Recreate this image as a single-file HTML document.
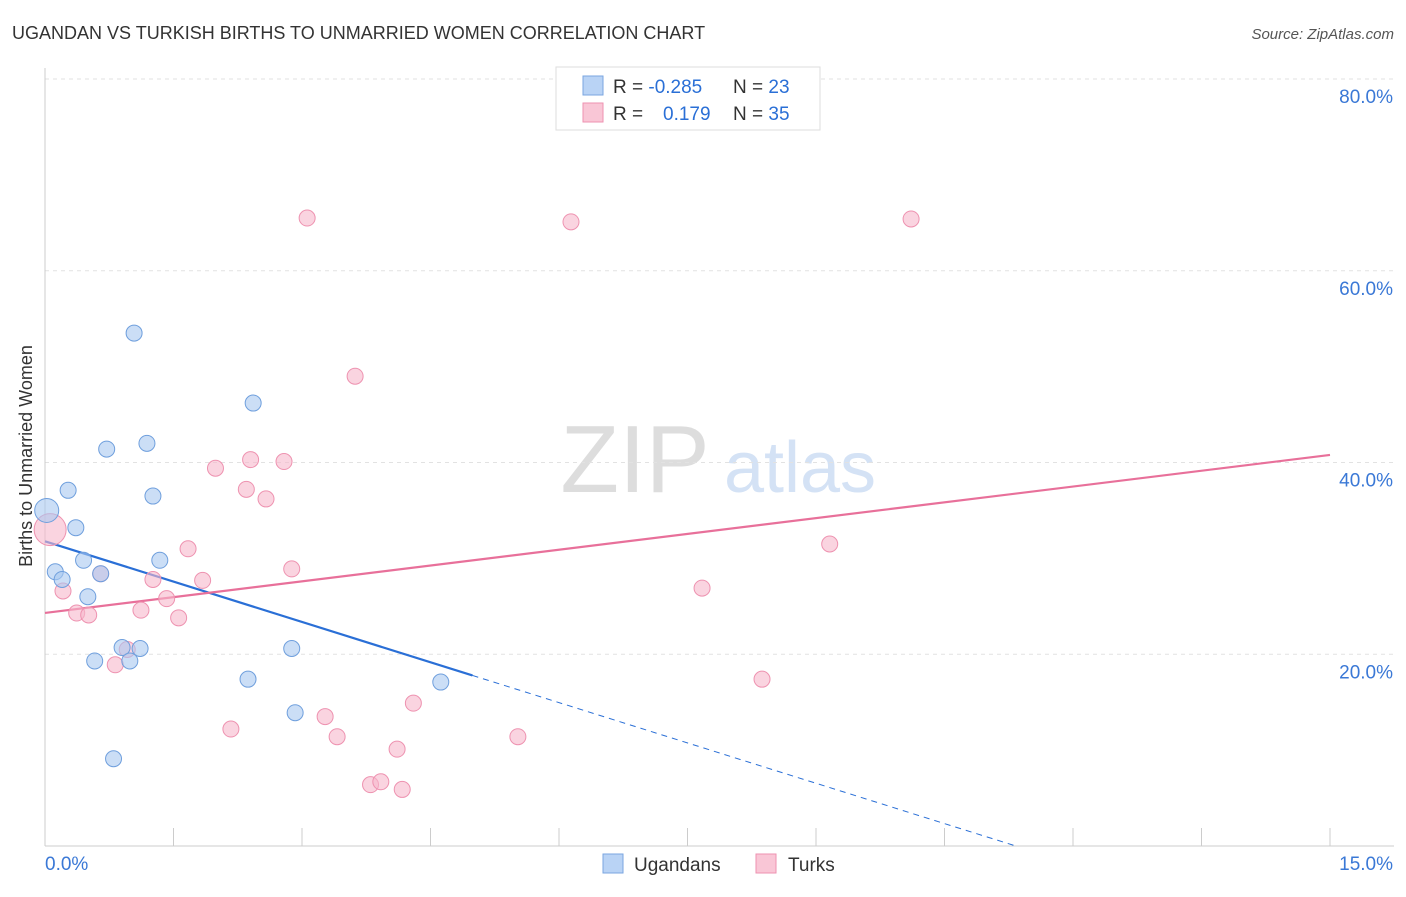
<!DOCTYPE html>
<html><head><meta charset="utf-8"><style>
body{margin:0;background:#fff;font-family:"Liberation Sans",sans-serif;}
svg text{font-family:"Liberation Sans",sans-serif;}
</style></head><body>
<svg id="chart" width="1406" height="892" xmlns="http://www.w3.org/2000/svg">
<text x="12" y="39" font-size="18" fill="#333">UGANDAN VS TURKISH BIRTHS TO UNMARRIED WOMEN CORRELATION CHART</text>
<text x="1394" y="39" font-size="15" fill="#555" text-anchor="end" font-style="italic">Source: ZipAtlas.com</text>
<text x="32" y="456" font-size="18" fill="#333" text-anchor="middle" transform="rotate(-90 32 456)">Births to Unmarried Women</text>
<text x="635" y="492" font-size="96" fill="#ddd" font-family="Liberation Serif" text-anchor="middle">ZIP</text>
<text x="800" y="492" font-size="72" fill="#d4e2f5" text-anchor="middle">atlas</text>
<g id="grid"></g><g id="axes"></g><g id="lines"></g><g id="pts"></g>
<g>
<rect x="556" y="67" width="264" height="63" fill="#fff" stroke="#ddd"/>
<rect x="583" y="76" width="20" height="19" fill="#b9d3f5" stroke="#7aa6e0"/>
<rect x="583" y="103" width="20" height="19" fill="#f9c6d6" stroke="#ee92b0"/>
<text x="613" y="93" font-size="19" fill="#333">R = <tspan fill="#2a6fd6">-0.285</tspan><tspan x="733">N = </tspan><tspan fill="#2a6fd6">23</tspan></text>
<text x="613" y="120" font-size="19" fill="#333">R = <tspan x="663" fill="#2a6fd6">0.179</tspan><tspan x="733">N = </tspan><tspan fill="#2a6fd6">35</tspan></text>
</g>
<g>
<rect x="603" y="854" width="20" height="19" fill="#b9d3f5" stroke="#7aa6e0"/>
<text x="634" y="871" font-size="19" fill="#333">Ugandans</text>
<rect x="756" y="854" width="20" height="19" fill="#f9c6d6" stroke="#ee92b0"/>
<text x="788" y="871" font-size="19" fill="#333">Turks</text>
</g>
</svg>
<script>
const yTicks=[20,40,60,80];
const xTickLabels=["0.0%","15.0%"];
const ugX=[0.02,0.12,0.2,0.27,0.36,0.45,0.5,0.58,0.65,0.72,0.8,0.9,0.99,1.04,1.11,1.19,1.26,1.34,2.37,2.43,2.88,2.92,4.62];
const ugY=[35.0,28.6,27.8,37.1,33.2,29.8,26.0,19.3,28.4,41.4,9.1,20.7,19.3,53.5,20.6,42.0,36.5,29.8,17.4,46.2,20.6,13.9,17.1];
const tuX=[0.06,0.21,0.37,0.51,0.65,0.82,0.96,1.12,1.26,1.42,1.56,1.67,1.84,1.99,2.17,2.35,2.4,2.58,2.79,2.88,3.06,3.27,3.41,3.62,3.8,3.92,4.11,4.17,4.3,5.52,6.14,7.67,8.37,9.16,10.11];
const tuY=[33.0,26.6,24.3,24.1,28.4,18.9,20.5,24.6,27.8,25.8,23.8,31.0,27.7,39.4,12.2,37.2,40.3,36.2,40.1,28.9,65.5,13.5,11.4,49.0,6.4,6.7,10.1,5.9,14.9,11.4,65.1,26.9,17.4,31.5,65.4];
const NS="http://www.w3.org/2000/svg";
const X=v=>45+v/15*1285, Y=v=>846-v*9.5875;
function mk(t,a,p){const e=document.createElementNS(NS,t);for(const k in a)e.setAttribute(k,a[k]);p.appendChild(e);return e;}
const grid=document.getElementById('grid'),axes=document.getElementById('axes'),lines=document.getElementById('lines'),pts=document.getElementById('pts');
yTicks.forEach(t=>{
 const l=mk('line',{x1:45,x2:1394,y1:Y(t),y2:Y(t),stroke:'#e2e2e2','stroke-dasharray':'4,4'},grid);
 
 
 const tx=mk('text',{x:1393,y:Y(t)+24,'font-size':19,fill:'#3a78d6','text-anchor':'end'},axes);
 tx.textContent=t.toFixed(1)+'%';
 
 
});
const ax=mk('line',{x1:45,x2:45,y1:68,y2:846,stroke:'#ccc'},axes);


const bx=mk('line',{x1:45,x2:1394,y1:846,y2:846,stroke:'#ccc'},axes);


for(let i=0;i<=10;i++){const t=mk('line',{x1:X(i*1.5),x2:X(i*1.5),y1:828,y2:846,stroke:'#ccc'},axes);
 
 }
[[0,45,'start'],[1,1393,'end']].forEach(([i,x,a])=>{const t=mk('text',{x:x,y:870,'font-size':19,fill:'#3a78d6','text-anchor':a},axes);t.textContent=xTickLabels[i];
 
 });
function fit(xs,ys){const n=xs.length,mx=xs.reduce((a,b)=>a+b)/n,my=ys.reduce((a,b)=>a+b)/n;let sxy=0,sxx=0;xs.forEach((x,i)=>{sxy+=(x-mx)*(ys[i]-my);sxx+=(x-mx)**2});const b=sxy/sxx;return[my-b*mx,b];}
const [ua,ub]=fit(ugX,ugY),[ta,tb]=fit(tuX,tuY);
const xmax=Math.max(...ugX)+0.37;
let l1=mk('line',{x1:X(0),y1:Y(ua),x2:X(xmax),y2:Y(ua+ub*xmax),stroke:'#2a6fd6','stroke-width':2.2},lines);


const xz=ub<0?Math.min(15,-ua/ub):15;
let l2=mk('line',{x1:X(xmax),y1:Y(ua+ub*xmax),x2:X(xz),y2:Y(ua+ub*xz),stroke:'#2a6fd6','stroke-width':1,'stroke-dasharray':'6,5'},lines);


let l3=mk('line',{x1:X(0),y1:Y(ta),x2:X(15),y2:Y(ta+tb*15),stroke:'#e8709a','stroke-width':2.2},lines);


function dots(xs,ys,fill,stroke,name){xs.forEach((x,i)=>{const r=i==0?(name=='ugandan-point'?12:16):8;
 const c=mk('circle',{cx:X(x),cy:Y(ys[i]),r:r,fill:fill,'fill-opacity':0.6,stroke:stroke,'stroke-width':1},pts);
 
 });}
dots(tuX,tuY,'#f6b8cb','#ee92b0','turk-point');
dots(ugX,ugY,'#a9c8f0','#6f9fdd','ugandan-point');
</script>
</body></html>
